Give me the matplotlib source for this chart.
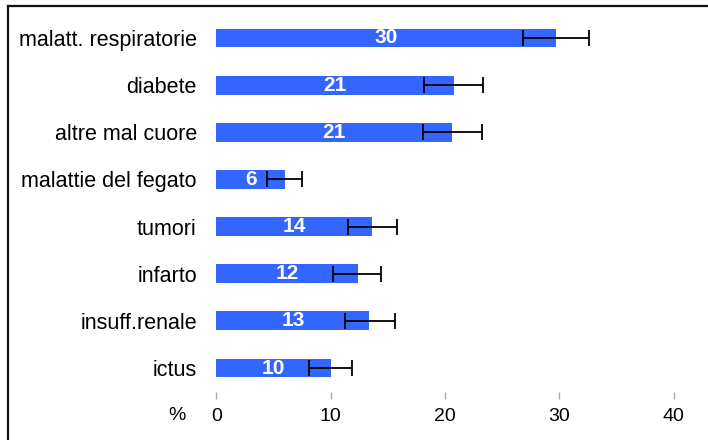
"""Horizontal bar chart of prevalence (%) with confidence intervals."""

import matplotlib
matplotlib.use("Agg")
import matplotlib.pyplot as plt
from matplotlib.lines import Line2D

plt.rcParams["font.family"] = ["Liberation Sans", "DejaVu Sans"]

categories = [
    "malatt. respiratorie",
    "diabete",
    "altre mal cuore",
    "malattie del fegato",
    "tumori",
    "infarto",
    "insuff.renale",
    "ictus",
]
values = [29.7, 20.8, 20.6, 6.0, 13.6, 12.4, 13.4, 10.0]
labels = ["30", "21", "21", "6", "14", "12", "13", "10"]
ci_low = [26.8, 18.2, 18.1, 4.45, 11.5, 10.2, 11.25, 8.1]
ci_high = [32.6, 23.3, 23.2, 7.5, 15.8, 14.4, 15.6, 11.9]
x_ticks = [0, 10, 20, 30, 40]

BAR_COLOR = "#3366FF"

fig = plt.figure(figsize=(7.08, 4.40), dpi=100)
ax = fig.add_axes([216.3 / 708, 1 - 391.6 / 440, (673.6 - 216.3) / 708, (391.6 - 14.4) / 440])

y_pos = list(range(len(categories)))
ax.barh(y_pos, values, height=0.4, color=BAR_COLOR, zorder=2)

xerr = [
    [v - lo for v, lo in zip(values, ci_low)],
    [hi - v for v, hi in zip(values, ci_high)],
]
ax.errorbar(values, y_pos, xerr=xerr, fmt="none", ecolor="black",
            elinewidth=1.3, capsize=6, capthick=1.3, zorder=3)

for y, v, lab in zip(y_pos, values, labels):
    ax.text(v / 2, y, lab, ha="center", va="center", color="white",
            fontsize=15, fontweight="bold", zorder=4)

ax.set_xlim(0, 40)
ax.set_ylim(len(categories) - 0.5, -0.5)
ax.set_yticks(y_pos)
ax.set_yticklabels(categories, fontsize=15.5)
ax.set_xticks(x_ticks)
ax.set_xticklabels([str(t) for t in x_ticks], fontsize=14)
ax.tick_params(axis="y", length=0, pad=14)
ax.tick_params(axis="x", length=5, width=1, color="#aaaaaa", pad=7)
for side in ["top", "right", "bottom", "left"]:
    ax.spines[side].set_visible(False)

fig.text(177 / 708, 1 - 415 / 440, "%", ha="center", va="center", fontsize=14)

# frame cropped at the top-left, as in the original screenshot
fig.add_artist(Line2D([8 / 708, 1], [1 - 6 / 440, 1 - 6 / 440],
                      transform=fig.transFigure, color="#111111", lw=1.6))
fig.add_artist(Line2D([8 / 708, 8 / 708], [0, 1 - 6 / 440],
                      transform=fig.transFigure, color="#111111", lw=1.6))

fig.savefig("out.png", dpi=100)
